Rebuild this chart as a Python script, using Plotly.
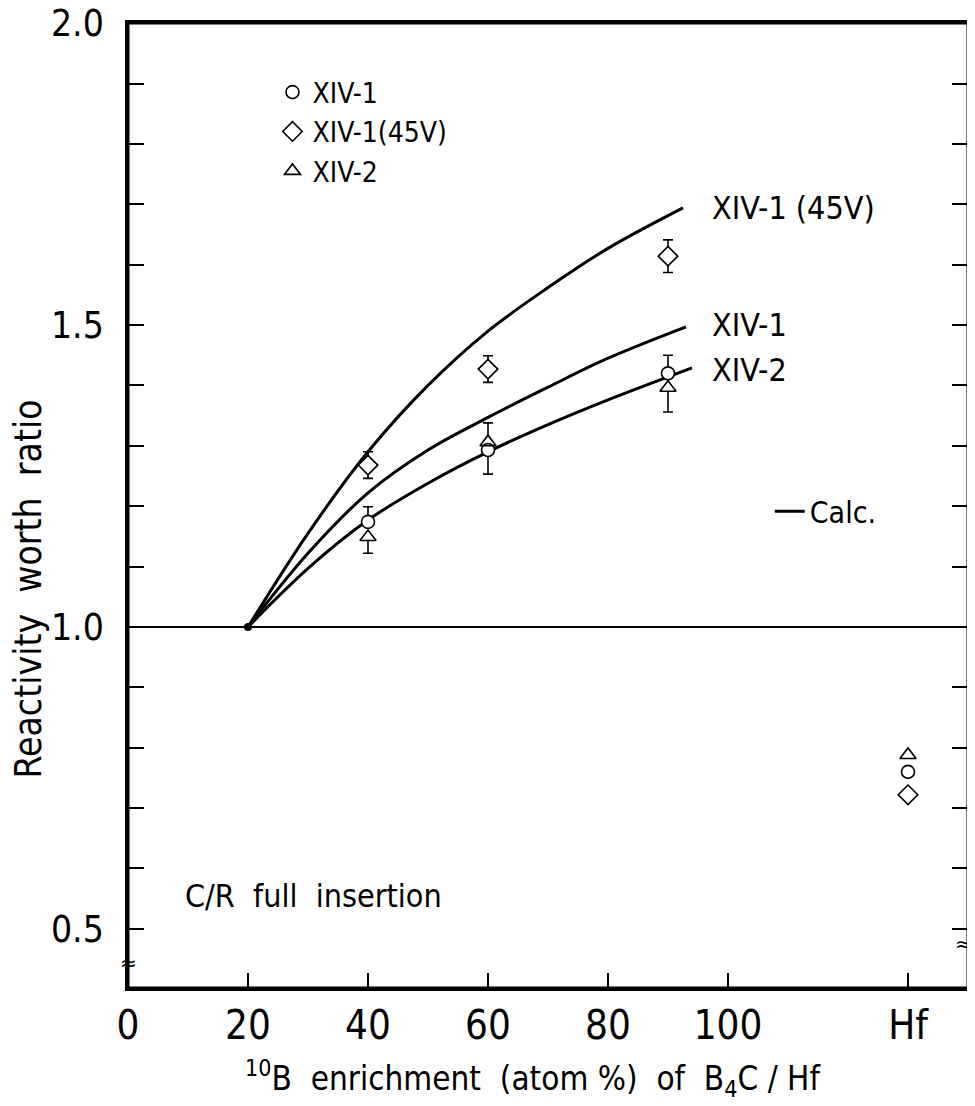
import plotly.graph_objects as go

FONT = "Liberation Sans Narrow, DejaVu Sans Condensed, Liberation Sans, Arial Narrow, sans-serif"

# ---- calculated curves ----
calc_x_45v = [20, 30, 40, 50, 60, 70, 80, 92.5]
calc_y_45v = [1.0, 1.155, 1.29, 1.40, 1.49, 1.562, 1.627, 1.694]
calc_x_xiv1 = [20, 30, 40, 50, 60, 70, 80, 93]
calc_y_xiv1 = [1.0, 1.122, 1.222, 1.293, 1.347, 1.397, 1.445, 1.497]
calc_x_xiv2 = [20, 30, 40, 50, 60, 70, 80, 94]
calc_y_xiv2 = [1.0, 1.097, 1.177, 1.238, 1.29, 1.335, 1.376, 1.429]

# ---- measured ----
meas_x = [40, 60, 90, 130]          # 130 = Hf position
xiv1_y = [1.174, 1.293, 1.42, 0.760]
xiv1_err_up = [0.025, 0, 0.03, 0]
xiv1_err_dn = [0, 0.04, 0, 0]
xiv145_y = [1.268, 1.427, 1.614, 0.722]
xiv145_err = [0.022, 0.022, 0.027, 0]
xiv2_y = [1.149, 1.306, 1.396, 0.788]
xiv2_err_up = [0, 0.032, 0, 0]
xiv2_err_dn = [0.027, 0, 0.04, 0]

ref_x = [20]
ref_y = [1.0]

tick_vals = [0, 20, 40, 60, 80, 100, 130]
tick_text = ["0", "20", "40", "60", "80", "100", "Hf"]

fig = go.Figure()

# reference line at 1.0
fig.add_hline(y=1.0, line_width=2, line_color="black")
# plot frame
fig.add_shape(type="rect", xref="paper", yref="paper", x0=0, y0=0, x1=1, y1=1,
              line=dict(color="black", width=3), layer="above")

# calculated curves
for i, (cx, cy) in enumerate([(calc_x_45v, calc_y_45v), (calc_x_xiv1, calc_y_xiv1), (calc_x_xiv2, calc_y_xiv2)]):
    fig.add_trace(go.Scatter(x=cx, y=cy, mode="lines", line=dict(color="black", width=3, shape="spline"),
                             name="Calc.", legend="legend2", showlegend=(i == 0), hoverinfo="skip"))

fig.add_trace(go.Scatter(x=ref_x, y=ref_y, mode="markers", marker=dict(color="black", size=8),
                         showlegend=False))

series = [
    ("XIV-1", xiv1_y, xiv1_err_up, xiv1_err_dn, "circle", 13),
    ("XIV-1(45V)", xiv145_y, xiv145_err, xiv145_err, "diamond", 15),
    ("XIV-2", xiv2_y, xiv2_err_up, xiv2_err_dn, "triangle-up", 14),
]
# white-filled markers carrying error bars
for name, y, up, dn, sym, sz in series:
    fig.add_trace(go.Scatter(x=meas_x, y=y, mode="markers",
                             marker=dict(symbol=sym, size=sz, color="white", line=dict(width=0)),
                             error_y=dict(type="data", symmetric=False, array=up, arrayminus=dn,
                                          color="black", thickness=1.6, width=5),
                             showlegend=False, hoverinfo="skip"))
# open outlines on top
for name, y, up, dn, sym, sz in series:
    fig.add_trace(go.Scatter(x=meas_x, y=y, mode="markers", name=name,
                             marker=dict(symbol=sym + "-open", size=sz, color="black", line=dict(width=1.6))))

fig.update_layout(
    template="none",
    width=975, height=1106,
    margin=dict(l=120, r=15, t=15, b=126, autoexpand=False),
    paper_bgcolor="white", plot_bgcolor="white",
    font=dict(family=FONT, color="black", size=30),
    legend=dict(x=0.172, y=0.954, xanchor="left", yanchor="top", bgcolor="rgba(0,0,0,0)",
                font=dict(family=FONT, size=28, color="black"), itemsizing="trace"),
    legend2=dict(x=0.764, y=0.494, xanchor="left", yanchor="middle", bgcolor="rgba(0,0,0,0)",
                 font=dict(family=FONT, size=30, color="black")),
    xaxis=dict(range=[0, 140], tickvals=tick_vals, ticktext=tick_text, ticks="inside", ticklen=15,
               tickwidth=1.5, tickcolor="black", showline=True, linewidth=2.5, linecolor="black",
               mirror=True, showgrid=False, zeroline=False, automargin=False, ticklabeloverflow="allow",
               tickfont=dict(family=FONT, size=40, color="black")),
    yaxis=dict(range=[0.402, 2.0002], tick0=0, dtick=0.5, tickformat=".1f", ticks="inside", ticklen=16,
               tickwidth=1.5, tickcolor="black", showline=True, linewidth=2.5, linecolor="black",
               mirror="ticks", showgrid=False, zeroline=False, ticklabelstandoff=14, automargin=False,
               ticklabeloverflow="allow",
               minor=dict(ticks="inside", dtick=0.1, ticklen=16, tickwidth=1.5, tickcolor="black",
                          showgrid=False),
               tickfont=dict(family=FONT, size=37, color="black")),
)

annos = [
    dict(x=97, y=1.694, text="XIV-1 (45V)", xanchor="left", yanchor="middle"),
    dict(x=97, y=1.5, text="XIV-1", xanchor="left", yanchor="middle"),
    dict(x=97, y=1.425, text="XIV-2", xanchor="left", yanchor="middle"),
    dict(x=9.2, y=0.555, text="C/R  full  insertion", xanchor="left", yanchor="middle"),
]
for a in annos:
    fig.add_annotation(xref="x", yref="y", showarrow=False, font=dict(family=FONT, size=32, color="black"), **a)

# axis titles
fig.add_annotation(xref="paper", yref="paper", x=-0.119, y=0.413, text="Reactivity  worth  ratio",
                   textangle=-90, showarrow=False, xanchor="center", yanchor="middle",
                   font=dict(family=FONT, size=37, color="black"))
fig.add_annotation(xref="paper", yref="paper", x=0.482, y=-0.094,
                   text="<sup>10</sup>B  enrichment  (atom %)  of  B<sub>4</sub>C / Hf",
                   showarrow=False, xanchor="center", yanchor="middle",
                   font=dict(family=FONT, size=33, color="black"))
# axis break marks
for bx, by in [(0, 0.026), (0.995, 0.046)]:
    fig.add_annotation(xref="paper", yref="paper", x=bx, y=by, text="≈", showarrow=False,
                       xanchor="center", yanchor="middle", font=dict(family="DejaVu Sans", size=20, color="black"))

fig.write_html("out.html")
